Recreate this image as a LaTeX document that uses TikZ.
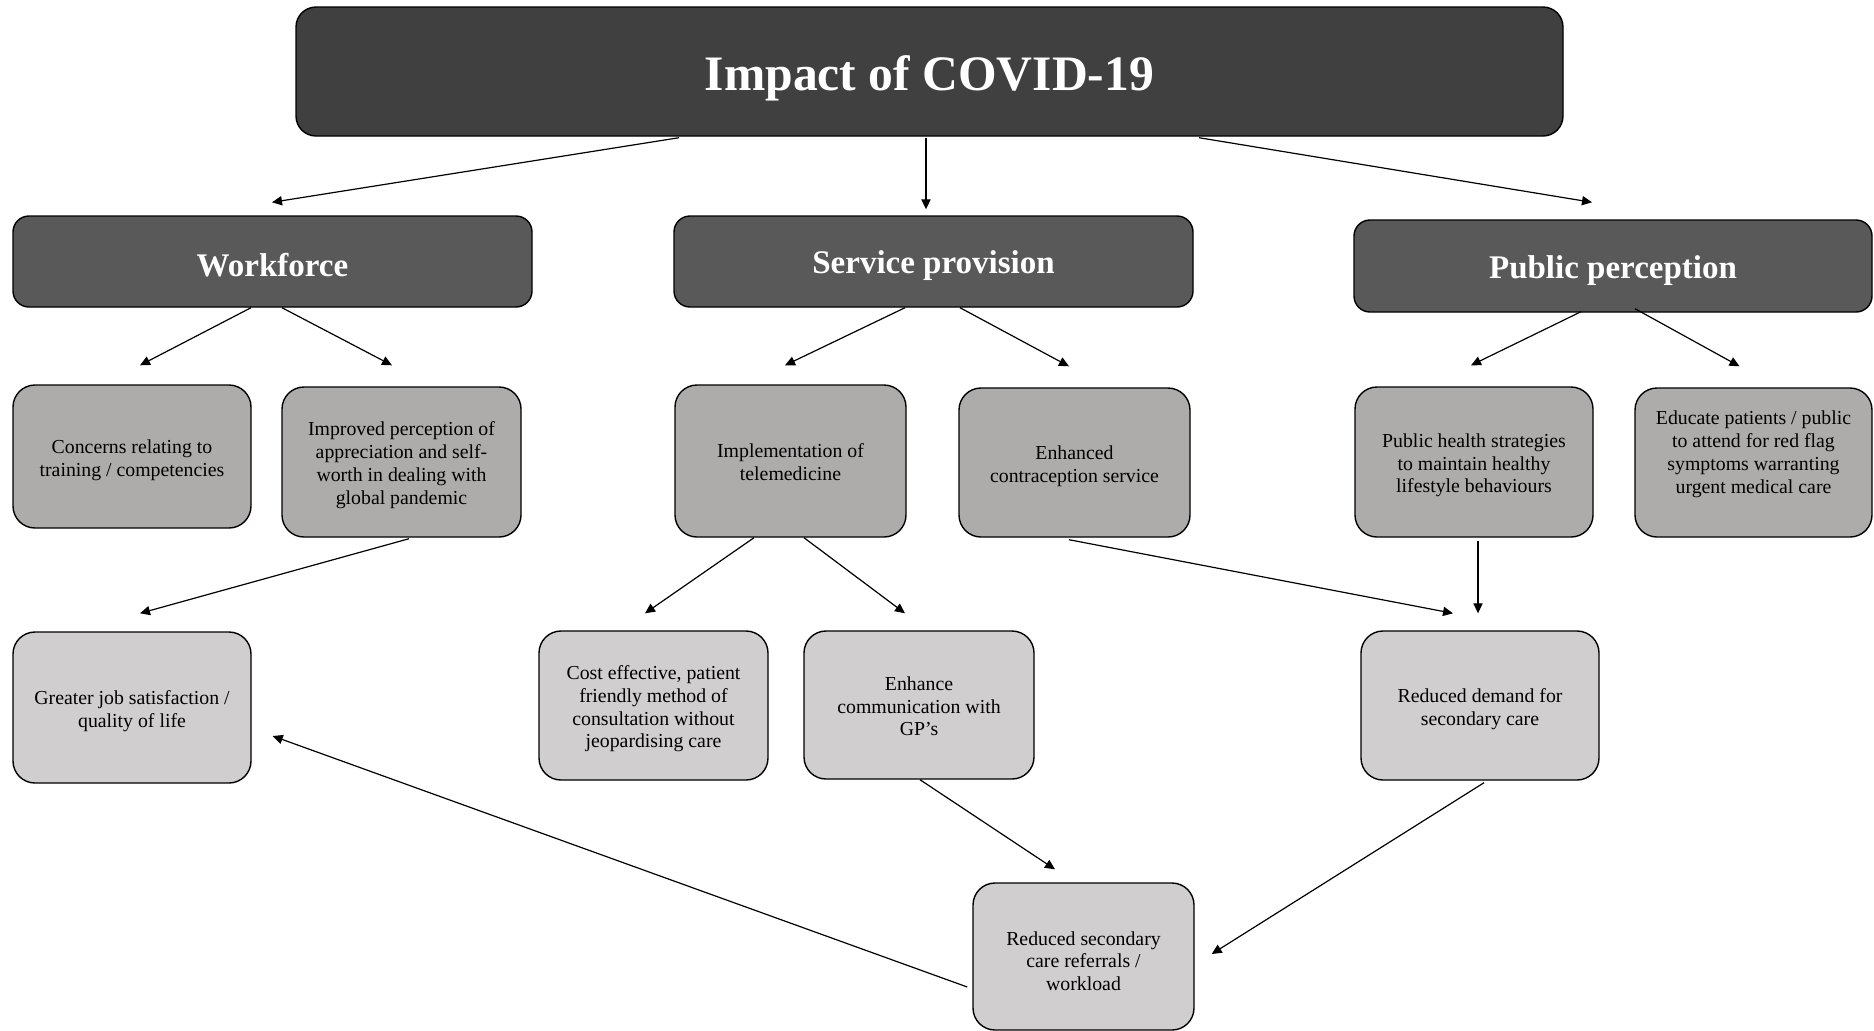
\documentclass[tikz,border=0pt]{standalone}
\usepackage{fontspec}
\setmainfont{Liberation Serif}
\usetikzlibrary{arrows.meta}
\definecolor{titlecol}{HTML}{404040}
\definecolor{headcol}{HTML}{595959}
\definecolor{midcol}{HTML}{AEABAB}
\definecolor{lowcol}{HTML}{D0CECE}
\newcommand{\boxlines}[2][-1.8pt]{\raisebox{#1}[\height][\depth]{\begin{tabular}{@{}c@{}}#2\end{tabular}}}
\tikzset{
  basebox/.style={draw=black, line width=0.7pt, inner sep=0pt, align=center},
  titlebox/.style={basebox, fill=titlecol, rounded corners=10pt, text=white,
    font=\fontsize{24.8}{28}\selectfont\bfseries, execute at begin node={\rule{0pt}{24pt}}},
  headbox/.style={basebox, fill=headcol, rounded corners=8pt, text=white,
    font=\fontsize{16.5}{19}\selectfont\bfseries, execute at begin node={\rule{0pt}{15.7pt}}},
  midbox/.style={basebox, fill=midcol, rounded corners=11pt,
    font=\fontsize{9.9}{11.4}\selectfont},
  lowbox/.style={basebox, fill=lowcol, rounded corners=11pt,
    font=\fontsize{9.9}{11.4}\selectfont},
  arr/.style={line width=0.6pt, -{Triangle[length=5pt,width=4.6pt]}}
}
\begin{document}
\begin{tikzpicture}[x=0.5pt,y=-0.5pt]
\useasboundingbox (0,0) rectangle (1874,1030);
% top
\node[titlebox, minimum width=633.5pt, minimum height=64.5pt] (title) at (929.5,71.5) {Impact of COVID-19};
% level 2
\node[headbox, minimum width=259.5pt, minimum height=45.5pt] (wf) at (272.5,261.5) {Workforce};
\node[headbox, minimum width=259.5pt, minimum height=45.5pt] (sp) at (933.5,261.5) {Service provision};
\node[headbox, minimum width=259pt, minimum height=46pt] (pp) at (1613,266) {Public perception};
% level 3
\node[midbox, minimum width=119pt, minimum height=71.5pt] (c1) at (132,456.5) {\boxlines{Concerns relating to\\training / competencies}};
\node[midbox, minimum width=119.5pt, minimum height=75pt] (c2) at (401.5,462) {\boxlines{Improved perception of\\appreciation and self-\\worth in dealing with\\global pandemic}};
\node[midbox, minimum width=115.5pt, minimum height=76pt] (c3) at (790.5,461) {\boxlines{Implementation of\\telemedicine}};
\node[midbox, minimum width=115.5pt, minimum height=74.5pt] (c4) at (1074.5,462.5) {\boxlines{Enhanced\\contraception service}};
\node[midbox, minimum width=119pt, minimum height=75pt] (c5) at (1474,462) {\boxlines{Public health strategies\\to maintain healthy\\lifestyle behaviours}};
\node[midbox, minimum width=118.5pt, minimum height=74.5pt] (c6) at (1753.5,462.5) {\boxlines[4pt]{Educate patients / public\\to attend for red flag\\symptoms warranting\\urgent medical care}};
% level 4
\node[lowbox, minimum width=119pt, minimum height=75.5pt] (d1) at (132,707.5) {\boxlines{Greater job satisfaction /\\quality of life}};
\node[lowbox, minimum width=114.5pt, minimum height=74.5pt] (d2) at (653.5,705.5) {\boxlines{Cost effective, patient\\friendly method of\\consultation without\\jeopardising care}};
\node[lowbox, minimum width=115pt, minimum height=74pt] (d3) at (919,705) {\boxlines{Enhance\\communication with\\GP’s}};
\node[lowbox, minimum width=119pt, minimum height=74.5pt] (d4) at (1480,705.5) {\boxlines{Reduced demand for\\secondary care}};
\node[lowbox, minimum width=110.5pt, minimum height=73.5pt] (d5) at (1083.5,956.5) {\boxlines[-3.4pt]{Reduced secondary\\care referrals /\\workload}};
% connectors
\draw[arr] ([shift={(-250.5,1)}]title.south) -- ([shift={(-0.5,-13)}]wf.north);
\draw[arr] ([shift={(-3.5,1)}]title.south) -- ([shift={(-7.5,-6)}]sp.north);
\draw[arr] ([shift={(269.5,1)}]title.south) -- ([shift={(-21,-17)}]pp.north);
\draw[arr] ([shift={(-21.5,0)}]wf.south) -- ([shift={(8,-19)}]c1.north);
\draw[arr] ([shift={(9.5,0)}]wf.south) -- ([shift={(-9.5,-21)}]c2.north);
\draw[arr] ([shift={(-28.5,0)}]sp.south) -- ([shift={(-5.5,-19)}]c3.north);
\draw[arr] ([shift={(26.5,0)}]sp.south) -- ([shift={(-5.5,-21)}]c4.north);
\draw[arr] ([shift={(-32,-1)}]pp.south) -- ([shift={(-3,-21)}]c5.north);
\draw[arr] ([shift={(22,-4)}]pp.south) -- ([shift={(-14,-21)}]c6.north);
\draw[arr] ([shift={(7.5,1)}]c2.south) -- ([shift={(8,-18)}]d1.north);
\draw[arr] ([shift={(-36.5,0)}]c3.south) -- ([shift={(-8.5,-17)}]d2.north);
\draw[arr] ([shift={(13.5,0)}]c3.south) -- ([shift={(-14,-17)}]d3.north);
\draw[arr] ([shift={(-5.5,2)}]c4.south) -- ([shift={(-27,-17)}]d4.north);
\draw[arr] ([shift={(4,3)}]c5.south) -- ([shift={(-2,-17)}]d4.north);
\draw[arr] ([shift={(1,0)}]d3.south) -- ([shift={(-28.5,-13)}]d5.north);
\draw[arr] ([shift={(4,2)}]d4.south) -- ([shift={(17,-2.5)}]d5.east);
\draw[arr] ([shift={(-5,30.5)}]d5.west) -- ([shift={(21,28.5)}]d1.east);
\end{tikzpicture}
\end{document}
